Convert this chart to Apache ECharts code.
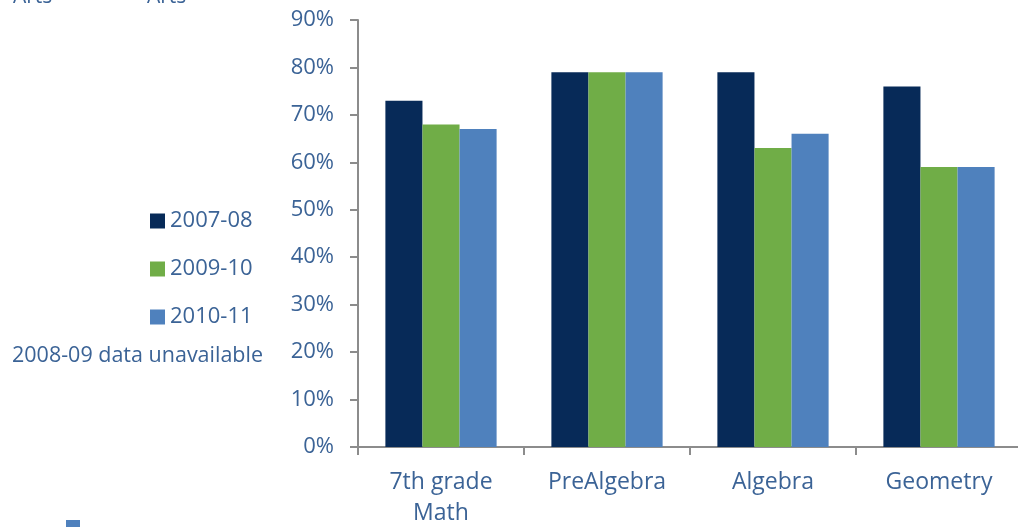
<!DOCTYPE html>
<html>
<head>
<meta charset="utf-8">
<script src="https://cdn.jsdelivr.net/npm/echarts@6/dist/echarts.min.js"></script>
<style>
  html, body { margin: 0; padding: 0; background: #fff; overflow: hidden; }
  #chart { width: 1018px; height: 527px; }
</style>
</head>
<body>
<div id="chart"></div>
<script>
// Course categories and proficiency rates per school year
const categories = ['7th grade\nMath', 'PreAlgebra', 'Algebra', 'Geometry'];
const years = ['2007-08', '2009-10', '2010-11'];
const values2007 = [73, 79, 79, 76];
const values2009 = [68, 79, 63, 59];
const values2010 = [67, 79, 66, 59];
const yTicks = [0, 10, 20, 30, 40, 50, 60, 70, 80, 90];
const colors = ['#072a58', '#70ad47', '#4f81bd'];
const textColor = '#3b6396';
const font = '"Open Sans", Lato, sans-serif';

const chart = echarts.init(document.getElementById('chart'));
const seriesData = [values2007, values2009, values2010];

chart.setOption({
  animation: false,
  textStyle: { fontFamily: font },
  grid: { left: 358, right: -4, top: 20, bottom: 80, containLabel: false, outerBoundsMode: 'none' },
  legend: {
    orient: 'vertical',
    left: 145,
    top: 205,
    itemWidth: 15,
    itemHeight: 15,
    itemGap: 26,
    icon: 'rect',
    data: years,
    textStyle: { color: textColor, fontSize: 22, fontFamily: font }
  },
  xAxis: {
    type: 'category',
    data: categories,
    axisLine: { lineStyle: { color: '#8c8c8c', width: 2 } },
    axisTick: { show: true, length: 8, lineStyle: { color: '#8c8c8c', width: 2 } },
    axisLabel: { color: textColor, fontSize: 23, margin: 20, lineHeight: 31, fontFamily: font }
  },
  yAxis: {
    type: 'value',
    min: yTicks[0],
    max: yTicks[yTicks.length - 1],
    interval: 10,
    splitLine: { show: false },
    axisLine: { show: true, lineStyle: { color: '#8c8c8c', width: 2 } },
    axisTick: { show: true, length: 8, lineStyle: { color: '#8c8c8c', width: 2 } },
    axisLabel: { color: textColor, fontSize: 22, margin: 24, fontFamily: font, formatter: v => v + '%' }
  },
  series: years.map((name, i) => ({
    name: name,
    type: 'bar',
    data: seriesData[i],
    barGap: '0%',
    barCategoryGap: '33%',
    itemStyle: { color: colors[i] }
  })),
  graphic: [
    { type: 'text', x: 12, y: 356, style: { text: '2008-09 data unavailable', fill: textColor, fontSize: 21.5, fontFamily: font, verticalAlign: 'middle' } },
    { type: 'text', x: 13, y: 8, style: { text: 'Arts', fill: textColor, fontSize: 21, fontFamily: font, verticalAlign: 'bottom' } },
    { type: 'text', x: 147, y: 8, style: { text: 'Arts', fill: textColor, fontSize: 21, fontFamily: font, verticalAlign: 'bottom' } },
    { type: 'rect', shape: { x: 66, y: 520, width: 14, height: 10 }, style: { fill: '#4f81bd' } }
  ]
});
</script>
</body>
</html>
